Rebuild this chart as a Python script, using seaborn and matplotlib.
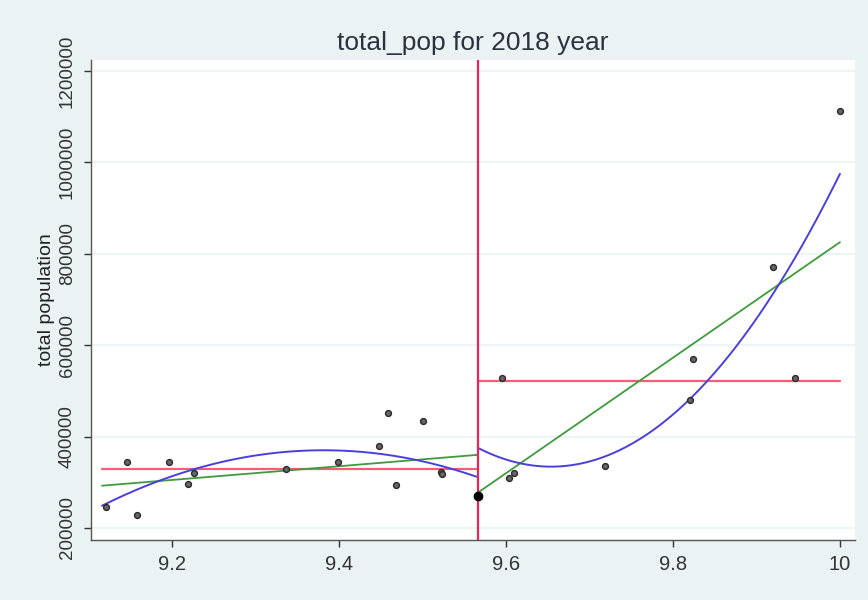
import numpy as np
import pandas as pd
import matplotlib
matplotlib.use('Agg')
import matplotlib.pyplot as plt
import seaborn as sns

# points (log scale values on x)
# the dark point on the cutoff is two points on top of each other, one per side
x_left = [9.121, 9.146, 9.158, 9.196, 9.219, 9.226, 9.337, 9.399, 9.448, 9.459, 9.468, 9.500, 9.522, 9.523, 9.566]
y_left = [245500, 344400, 227900, 344400, 295200, 320200, 329700, 344400, 380200, 450500, 294500, 433000, 321500, 317000, 270300]
x_right = [9.567, 9.595, 9.603, 9.610, 9.719, 9.820, 9.824, 9.920, 9.946, 10.0]
y_right = [270300, 529000, 309200, 320200, 336300, 479800, 569200, 770800, 529000, 1111400]
cutoff = 9.566

x_ticks = [9.2, 9.4, 9.6, 9.8, 10]
x_ticklabels = ['9.2', '9.4', '9.6', '9.8', '10']
y_ticks = [200000, 400000, 600000, 800000, 1000000, 1200000]

bg = '#eaf2f3'
sns.set_style('white')
plt.rcParams['font.family'] = ['Liberation Sans', 'DejaVu Sans']

df = pd.DataFrame({'x': x_left + x_right, 'y': y_left + y_right})

fig = plt.figure(figsize=(8.68, 6.0), dpi=100, facecolor=bg)
ax = fig.add_axes([0.105, 0.1, 0.88, 0.8])
ax.set_facecolor('white')

for yt in y_ticks:
    ax.axhline(yt, color=bg, lw=1.2, zorder=0)

# mean, linear and quadratic fit on each side of the cutoff
sides = [(np.array(x_left), np.array(y_left), min(x_left) - 0.005, cutoff),
         (np.array(x_right), np.array(y_right), cutoff, max(x_right))]
for xs, ys, lo, hi in sides:
    grid = np.linspace(lo, hi, 200)
    ax.plot([lo, hi], [ys.mean(), ys.mean()], color='#ff5a78', lw=1.6, zorder=2)
    lin = np.polyfit(xs, ys, 1)
    ax.plot(grid, np.polyval(lin, grid), color='#3f9a3f', lw=1.3, zorder=3)
    quad = np.polyfit(xs, ys, 2)
    ax.plot(grid, np.polyval(quad, grid), color='#4b3fdc', lw=1.4, zorder=3)

sns.scatterplot(data=df, x='x', y='y', ax=ax, s=18, color='#666666',
                edgecolor='#2a2a2a', linewidth=1.0, zorder=4, legend=False)
ax.scatter([x_right[0]], [y_right[0]], s=36, color='black', zorder=5)

ax.axvline(cutoff, color='#e8245a', lw=1.6, zorder=4)

ax.set_xlim(9.103, 10.018)
ax.set_ylim(173600, 1224000)
ax.set_xticks(x_ticks)
ax.set_xticklabels(x_ticklabels)
ax.set_yticks(y_ticks)
ax.set_yticklabels([str(v) for v in y_ticks], rotation=90, va='center')
ax.tick_params(axis='x', labelsize=14.5)
ax.tick_params(axis='y', labelsize=13.5)
ax.tick_params(axis='both', colors='#333333', length=5,
               width=1, direction='out', left=True, bottom=True, pad=6)
ax.set_xlabel('')
ax.set_ylabel('total population', fontsize=14, color='#222222', labelpad=3)
ax.set_title('total_pop for 2018 year', fontsize=19, color='#2b3340', pad=7)

for s in ['top', 'right']:
    ax.spines[s].set_visible(False)
for s in ['left', 'bottom']:
    ax.spines[s].set_color('#555555')
    ax.spines[s].set_linewidth(1.0)

fig.savefig('out.png', dpi=100, facecolor=bg)
